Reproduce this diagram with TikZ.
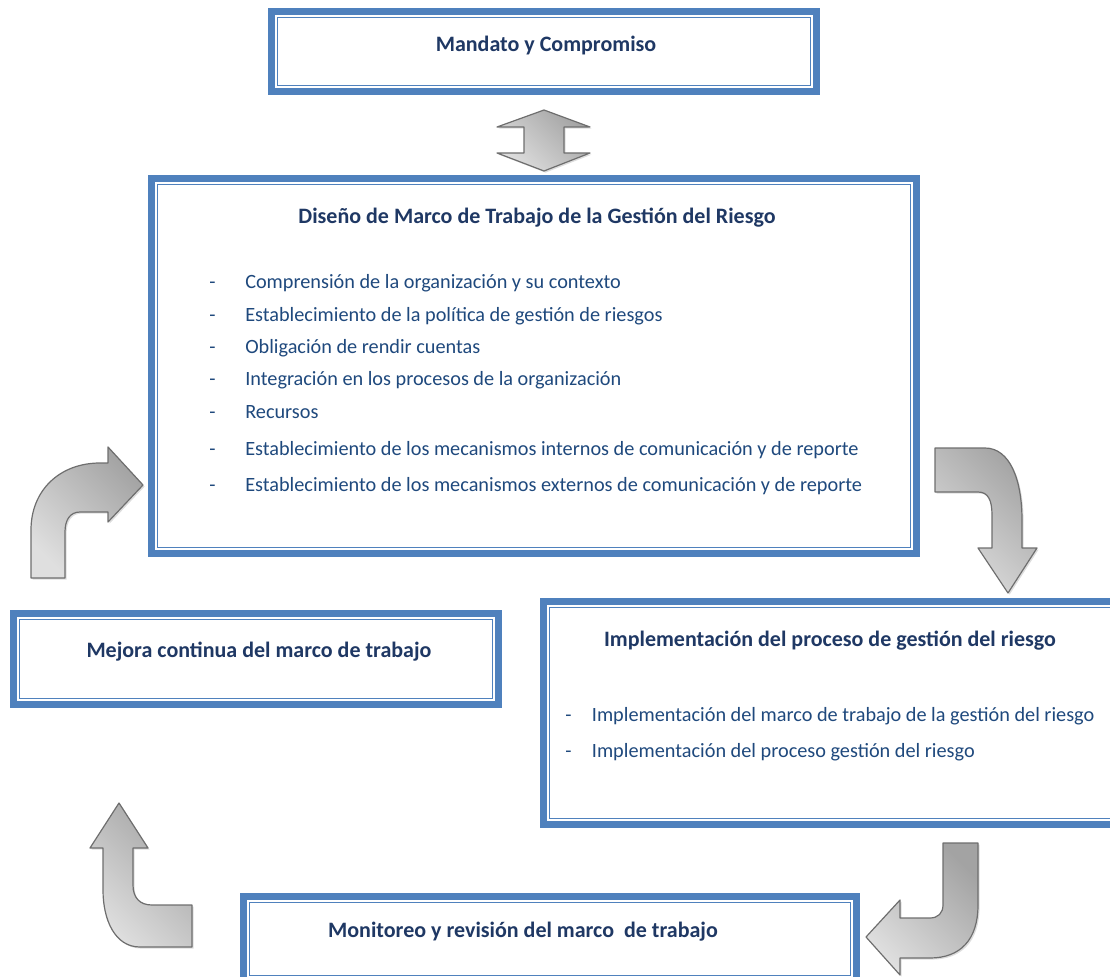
\documentclass[tikz,border=0pt]{standalone}
\usepackage{fontspec}
\setmainfont{Carlito}
\usetikzlibrary{shadows}
\definecolor{bandblue}{HTML}{4F81BD}
\definecolor{titleblue}{HTML}{1F3864}
\definecolor{bodyblue}{HTML}{1F497D}
\definecolor{arrowline}{HTML}{6E6E6E}
\tikzset{
  framebox/.style={draw=bandblue, line width=5.25pt, fill=white, inner sep=0pt,
    path picture={\draw[bandblue, line width=1pt]
      ([shift={(4.6pt,-4.6pt)}]path picture bounding box.north west) rectangle
      ([shift={(-4.6pt,4.6pt)}]path picture bounding box.south east);}},
  titletext/.style={font=\bfseries\fontsize{16.5}{19}\selectfont, text=titleblue, inner sep=0pt},
  itemtext/.style={font=\fontsize{15.2}{18}\selectfont, text=bodyblue, inner sep=0pt, anchor=west},
  grayarrow/.style={draw=arrowline, line width=0.9pt, line join=round,
    left color=gray!25, right color=gray!72, shading angle=135,
    drop shadow={shadow xshift=1.2pt, shadow yshift=-1.2pt, fill=gray!45, opacity=0.6}},
}
\newcommand{\itm}[2][27pt]{\makebox[#1][l]{-}#2}
\begin{document}
\begin{tikzpicture}[x=0.75pt, y=-0.75pt]
\useasboundingbox (0,0) rectangle (1110,977);

% boxes
\node[framebox, minimum width=408.75pt, minimum height=60pt] (mandato) at (544,51.5) {};
\node[framebox, minimum width=573.75pt, minimum height=281.25pt] (diseno) at (534,366) {};
\node[framebox, minimum width=363.75pt, minimum height=68.25pt] (mejora) at (256,659) {};
\node[framebox, minimum width=433.5pt, minimum height=167.25pt] (impl) at (832.5,713) {};
\node[framebox, minimum width=459.75pt, minimum height=63.75pt] (monit) at (550,939) {};

% texts
\node[titletext] (tmandato) at (546,46) {Mandato y Compromiso};
\node[titletext] (tdiseno) at (537,218) {Diseño de Marco de Trabajo de la Gestión del Riesgo};
\node[itemtext] (d1) at (209,283) {\itm{Comprensión de la organización y su contexto}};
\node[itemtext] (d2) at (209,316) {\itm{Establecimiento de la política de gestión de riesgos}};
\node[itemtext] (d3) at (209,348) {\itm{Obligación de rendir cuentas}};
\node[itemtext] (d4) at (209,380) {\itm{Integración en los procesos de la organización}};
\node[itemtext] (d5) at (209,412) {\itm{Recursos}};
\node[itemtext] (d6) at (209,450) {\itm{Establecimiento de los mecanismos internos de comunicación y de reporte}};
\node[itemtext] (d7) at (209,486) {\itm{Establecimiento de los mecanismos externos de comunicación y de reporte}};
\node[titletext] (tmejora) at (259,652) {Mejora continua del marco de trabajo};
\node[titletext] (timpl) at (830,641) {Implementación del proceso de gestión del riesgo};
\node[itemtext] (i1) at (565,716) {\itm[20pt]{Implementación del marco de trabajo de la gestión del riesgo}};
\node[itemtext] (i2) at (565,752) {\itm[20pt]{Implementación del proceso gestión del riesgo}};
\node[titletext] (tmonit) at (523,932) {Monitoreo y revisión del marco\ \ de trabajo};

% double arrow between Mandato and Diseño
\path[grayarrow] (544,110) -- (590,127) -- (564,127) -- (564,153) -- (590,153) -- (544,171)
  -- (497,153) -- (524,153) -- (524,127) -- (497,127) -- cycle;

% left arrow (up then right)
\path[grayarrow] (31,578) -- (31,530) .. controls (31,490) and (60,463) .. (100,463) -- (108,463)
  -- (108,447) -- (143,485) -- (108,522) -- (108,512) -- (80,512)
  .. controls (70,512) and (65,520) .. (65,532) -- (65,578) -- cycle;

% right arrow (right then down)
\path[grayarrow] (935,448) -- (985,448) .. controls (1010,448) and (1022,480) .. (1022,520)
  -- (1022,548) -- (1037,548) -- (1008,593) -- (978,548) -- (992,548) -- (992,515)
  .. controls (992,500) and (988,492) .. (978,492) -- (935,492) -- cycle;

% bottom right arrow (down then left)
\path[grayarrow] (943,843) -- (978,843) -- (978,905) .. controls (978,940) and (960,958) .. (930,958)
  -- (900,958) -- (900,975) -- (866,937) -- (900,900) -- (900,918) -- (930,918)
  .. controls (938,918) and (943,913) .. (943,905) -- cycle;

% bottom left arrow (left then up)
\path[grayarrow] (119,803) -- (148,848) -- (133,848) -- (133,885) .. controls (133,898) and (140,905) .. (152,905)
  -- (192,905) -- (192,947) -- (140,947) .. controls (115,947) and (103,920) .. (103,890)
  -- (103,848) -- (90,848) -- cycle;
\end{tikzpicture}
\end{document}
